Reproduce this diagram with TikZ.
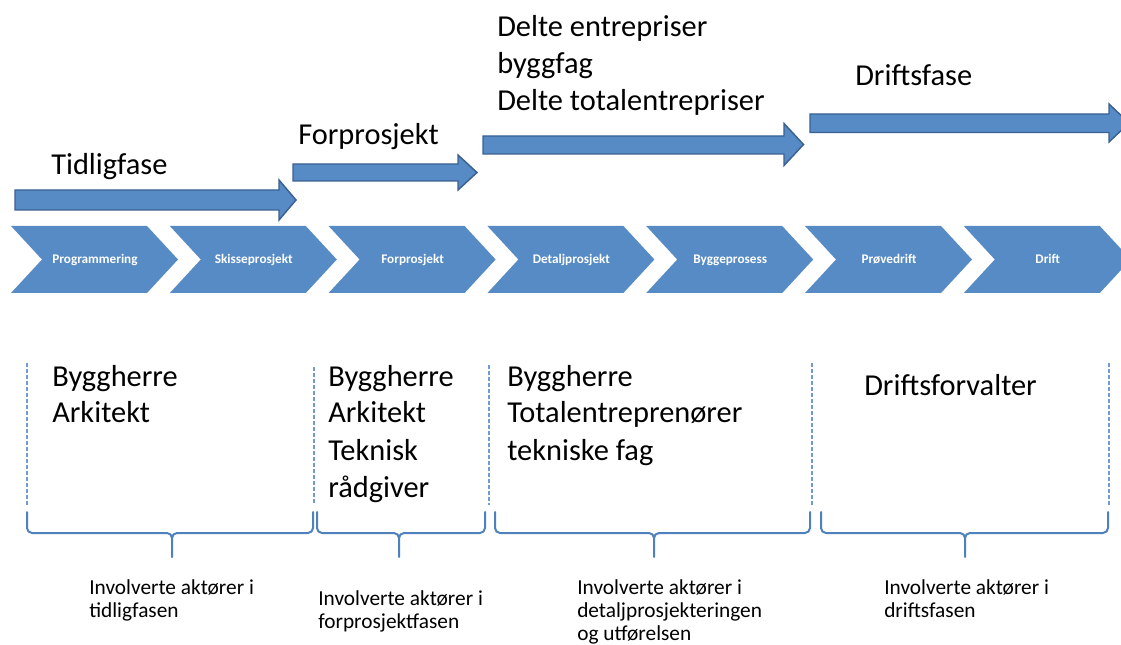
\documentclass[tikz,border=0pt]{standalone}
\usepackage{fontspec}
\setmainfont{Carlito}

\definecolor{phaseblue}{RGB}{86,139,197}
\definecolor{phaseedge}{RGB}{58,97,145}
\definecolor{bracketblue}{RGB}{79,129,189}
\definecolor{dashblue}{RGB}{110,155,208}

% multi-line text whose base is the baseline of its first line
\newcommand{\textlines}[1]{\begin{tabular}[t]{@{}l@{}}#1\end{tabular}}

% flat curly bracket: left end, middle tick, right end
\newcommand{\GroupBracket}[3]{%
  \draw[bracket] (#1,512) -- (#1,528) to[out=-90,in=180] (#1+5,533)
        -- (#2-5,533) to[out=0,in=90] (#2,538) -- (#2,557);
  \draw[bracket] (#2,538) to[out=90,in=180] (#2+5,533)
        -- (#3-5,533) to[out=0,in=-90] (#3,528) -- (#3,512);
}

\begin{document}
\begin{tikzpicture}[x=0.75pt,y=-0.75pt,
  phasearrow/.style={fill=phaseblue,draw=phaseedge,line width=1.1pt,line join=miter},
  chevron/.style={fill=phaseblue},
  chevlabel/.style={text=white,font=\fontsize{9.9}{11}\selectfont\bfseries,anchor=base,inner sep=0pt},
  bigtext/.style={font=\fontsize{22.8}{27.75}\selectfont,anchor=base west,inner sep=0pt},
  smalltext/.style={font=\fontsize{16}{17.6}\selectfont,anchor=base west,inner sep=0pt},
  divider/.style={draw=dashblue,line width=1.1pt,dash pattern=on 3pt off 1.5pt},
  bracket/.style={draw=bracketblue,line width=1.5pt,line cap=round,line join=round}]

\useasboundingbox (0,0) rectangle (1121,645);
\clip (0,0) rectangle (1121,645);

% phase arrows
\filldraw[phasearrow] (15,190) -- (279,190) -- (279,180) -- (296,200)
  -- (279,220) -- (279,210) -- (15,210) -- cycle;
\filldraw[phasearrow] (293,164) -- (458,164) -- (458,155) -- (477,172.5)
  -- (458,190) -- (458,181) -- (293,181) -- cycle;
\filldraw[phasearrow] (483,136) -- (784,136) -- (784,123.5) -- (803.5,144.5)
  -- (784,165.5) -- (784,154) -- (483,154) -- cycle;
\filldraw[phasearrow] (810,114) -- (1109,114) -- (1109,104) -- (1129,123)
  -- (1109,142) -- (1109,132.5) -- (810,132.5) -- cycle;

% phase titles
\node[bigtext] (tidlig) at (51,175) {Tidligfase};
\node[bigtext] (forpro) at (298,145) {Forprosjekt};
\node[bigtext] (delte) at (497,36.5) {\textlines{Delte entrepriser\\ byggfag\\ Delte totalentrepriser}};
\node[bigtext] (drift) at (855,86) {Driftsfase};

% process chevrons
\foreach \lbl [count=\i from 0] in {Programmering,Skisseprosjekt,Forprosjekt,Detaljprosjekt,Byggeprosess,Prøvedrift,Drift} {
  \pgfmathsetmacro\xo{11+158.8*\i}
  \fill[chevron] (\xo,226) -- (\xo+136,226) -- (\xo+167,259.5) -- (\xo+136,293)
    -- (\xo,293) -- (\xo+31,259.5) -- cycle;
  \node[chevlabel] (chev\i) at (\xo+84,264) {\lbl};
}

% dashed dividers between actor groups
\foreach \dx/\dy in {27/363,314/367,489/365,812/363,1109/363} {
  \draw[divider] (\dx,\dy) -- (\dx,505);
}

% actors
\node[bigtext] (actors1) at (52,386) {\textlines{Byggherre\\ Arkitekt}};
\node[bigtext] (actors2) at (328,386) {\textlines{Byggherre\\ Arkitekt\\ Teknisk\\ rådgiver}};
\node[bigtext] (actors3) at (507,386) {\textlines{Byggherre\\ Totalentreprenører\\ tekniske fag}};
\node[bigtext] (actors4) at (864,395) {Driftsforvalter};

% brackets
\GroupBracket{27}{172}{313}
\GroupBracket{317}{399}{485}
\GroupBracket{495}{654}{810}
\GroupBracket{821}{965}{1108}

% bracket captions
\node[smalltext] (cap1) at (89,594) {\textlines{Involverte aktører i\\ tidligfasen}};
\node[smalltext] (cap2) at (318,605) {\textlines{Involverte aktører i\\ forprosjektfasen}};
\node[smalltext] (cap3) at (577,594) {\textlines{Involverte aktører i\\ detaljprosjekteringen\\ og utførelsen}};
\node[smalltext] (cap4) at (884,594) {\textlines{Involverte aktører i\\ driftsfasen}};

\end{tikzpicture}
\end{document}
